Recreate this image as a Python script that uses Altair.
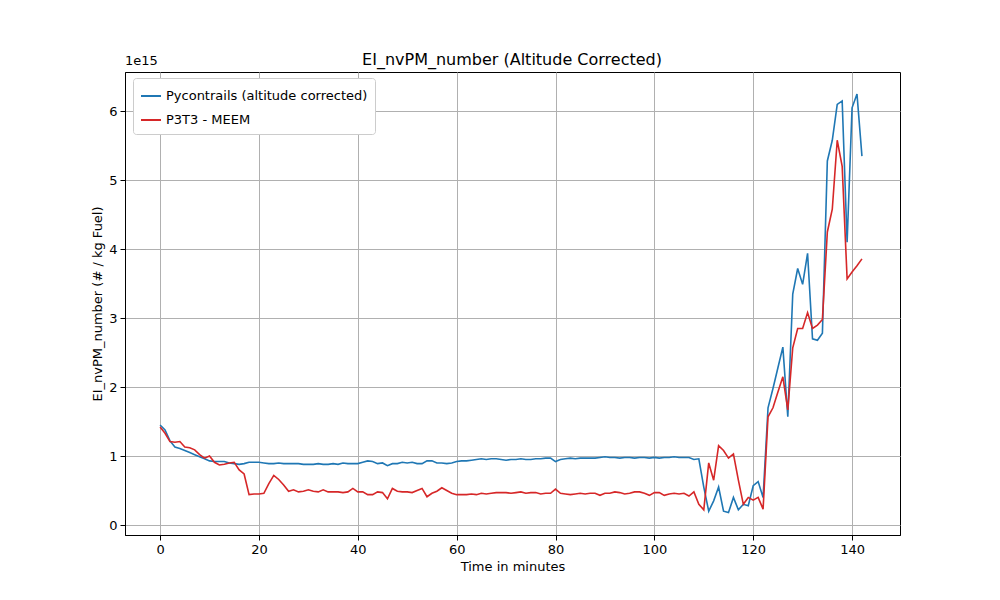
import altair as alt
import pandas as pd

minutes = list(range(143))

# values in units of 1e15 particles per kg fuel
pycontrails = [
    1.45, 1.38, 1.22, 1.13, 1.11, 1.08, 1.05, 1.02, 0.99, 0.96,
    0.93, 0.92, 0.92, 0.92, 0.90, 0.89, 0.88, 0.89, 0.91, 0.91,
    0.91, 0.90, 0.89, 0.89, 0.90, 0.89, 0.89, 0.89, 0.89, 0.88,
    0.88, 0.88, 0.89, 0.88, 0.88, 0.89, 0.88, 0.90, 0.89, 0.89,
    0.89, 0.91, 0.93, 0.92, 0.89, 0.90, 0.86, 0.89, 0.89, 0.91,
    0.90, 0.91, 0.89, 0.89, 0.93, 0.93, 0.90, 0.90, 0.89, 0.90,
    0.92, 0.93, 0.93, 0.94, 0.95, 0.96, 0.95, 0.96, 0.96, 0.95,
    0.94, 0.95, 0.95, 0.96, 0.95, 0.95, 0.96, 0.96, 0.97, 0.97,
    0.92, 0.95, 0.96, 0.97, 0.96, 0.97, 0.97, 0.97, 0.97, 0.98,
    0.99, 0.98, 0.98, 0.97, 0.98, 0.98, 0.97, 0.98, 0.98, 0.97,
    0.98, 0.97, 0.98, 0.98, 0.99, 0.98, 0.98, 0.98, 0.95, 0.96,
    0.55, 0.20, 0.35, 0.55, 0.20, 0.18, 0.40, 0.22, 0.30, 0.28,
    0.57, 0.63, 0.40, 1.70, 1.98, 2.28, 2.58, 1.57, 3.35, 3.72,
    3.49, 3.94, 2.70, 2.68, 2.78, 5.28, 5.58, 6.10, 6.15, 4.10,
    6.05, 6.25, 5.35,
]

p3t3 = [
    1.42, 1.33, 1.21, 1.20, 1.21, 1.13, 1.12, 1.09, 1.02, 0.97,
    1.00, 0.91, 0.87, 0.88, 0.90, 0.91, 0.80, 0.74, 0.44, 0.45,
    0.45, 0.46, 0.60, 0.72, 0.66, 0.58, 0.49, 0.51, 0.48, 0.49,
    0.51, 0.49, 0.48, 0.51, 0.48, 0.48, 0.48, 0.47, 0.48, 0.53,
    0.48, 0.48, 0.44, 0.44, 0.48, 0.47, 0.38, 0.53, 0.49, 0.48,
    0.48, 0.47, 0.50, 0.53, 0.41, 0.46, 0.49, 0.54, 0.50, 0.46,
    0.44, 0.44, 0.44, 0.45, 0.44, 0.46, 0.45, 0.46, 0.47, 0.47,
    0.47, 0.46, 0.47, 0.48, 0.46, 0.47, 0.47, 0.45, 0.46, 0.46,
    0.52, 0.46, 0.45, 0.44, 0.45, 0.46, 0.45, 0.46, 0.46, 0.43,
    0.46, 0.46, 0.48, 0.47, 0.45, 0.46, 0.48, 0.48, 0.46, 0.43,
    0.47, 0.47, 0.43, 0.45, 0.46, 0.45, 0.46, 0.42, 0.48, 0.30,
    0.22, 0.90, 0.65, 1.15, 1.08, 0.97, 1.03, 0.65, 0.30, 0.40,
    0.36, 0.40, 0.23, 1.57, 1.70, 1.93, 2.15, 1.67, 2.57, 2.85,
    2.85, 3.08, 2.85, 2.90, 2.98, 4.25, 4.58, 5.58, 5.20, 3.57,
    3.67, 3.76, 3.86,
]

series = ["Pycontrails (altitude corrected)", "P3T3 - MEEM"]
colors = ["#1f77b4", "#d62728"]

df = pd.concat([
    pd.DataFrame({"t": minutes, "v": pycontrails, "s": series[0]}),
    pd.DataFrame({"t": minutes, "v": p3t3, "s": series[1]}),
])

lines = alt.Chart(df).mark_line(strokeWidth=1.6, clip=True).encode(
    x=alt.X("t:Q", title="Time in minutes",
            scale=alt.Scale(domain=[-7.1, 149.7], nice=False, zero=False),
            axis=alt.Axis(values=[0, 20, 40, 60, 80, 100, 120, 140], format="d")),
    y=alt.Y("v:Q", title="EI_nvPM_number (# / kg Fuel)",
            scale=alt.Scale(domain=[-0.145, 6.57], nice=False, zero=False),
            axis=alt.Axis(values=[0, 1, 2, 3, 4, 5, 6], format="d")),
    color=alt.Color("s:N", scale=alt.Scale(domain=series, range=colors),
                    legend=alt.Legend(title=None, orient="none", legendX=8, legendY=6,
                                      fillColor="white", strokeColor="#cccccc",
                                      padding=7, cornerRadius=3, labelFontSize=13,
                                      labelLimit=400,
                                      symbolType="stroke", symbolSize=400,
                                      symbolStrokeWidth=2, rowPadding=6,
                                      labelFont="DejaVu Sans")),
    detail="s:N",
)

exp = alt.Chart(pd.DataFrame({"txt": ["1e15"]})).mark_text(
    align="left", baseline="bottom", fontSize=13, font="DejaVu Sans"
).encode(x=alt.value(0), y=alt.value(-4), text="txt:N")

title = alt.Chart(pd.DataFrame({"txt": ["EI_nvPM_number (Altitude Corrected)"]})).mark_text(
    align="center", baseline="bottom", fontSize=16, font="DejaVu Sans"
).encode(x=alt.value(387), y=alt.value(-4), text="txt:N")

chart = (lines + exp + title).properties(
    width=775, height=463,
    padding={"left": 117, "top": 64, "right": 10, "bottom": 57},
    autosize=alt.AutoSizeParams(type="none"),
).configure_axis(
    grid=True, gridColor="#b0b0b0", gridWidth=1, domainColor="black",
    tickColor="black", labelColor="black", titleColor="black",
    labelFontSize=13, titleFontSize=13, labelFont="DejaVu Sans",
    titleFont="DejaVu Sans", titleFontWeight="normal", tickSize=5, labelPadding=3,
).configure_view(stroke="black", strokeWidth=1)

chart.save("out.html", embed_options={"renderer": "svg", "actions": False})
